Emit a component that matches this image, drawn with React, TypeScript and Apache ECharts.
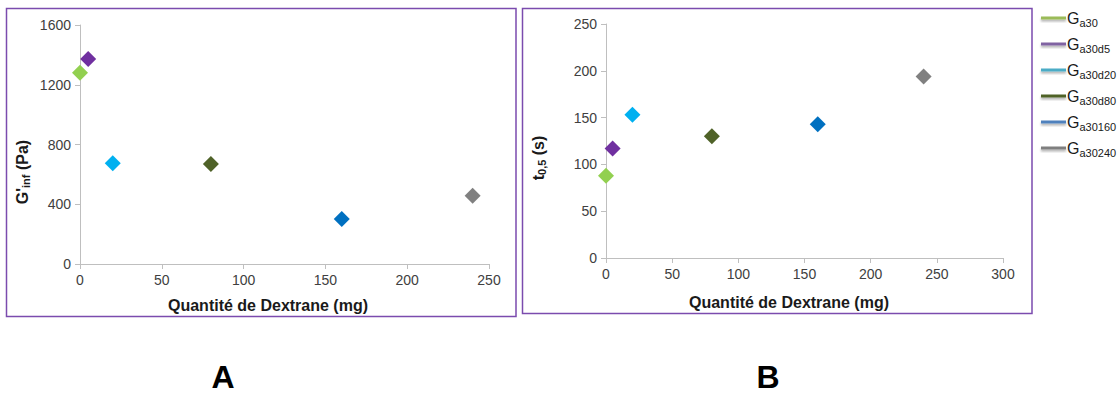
import React, { useEffect, useRef } from "react";
import * as echarts from "echarts";

const seriesNames = ["Ga30", "Ga30d5", "Ga30d20", "Ga30d80", "Ga30160", "Ga30240"];
const subscripts = ["a30", "a30d5", "a30d20", "a30d80", "a30160", "a30240"];
const colors = ["#92D050", "#7030A0", "#00B0F0", "#4F6228", "#0070C0", "#808080"];
const legendColors = ["#9BBB59", "#8064A2", "#4BACC6", "#4F6228", "#4F81BD", "#7F7F7F"];
const dextrane = [0, 5, 20, 80, 160, 240];
const gInf = [1280, 1372, 674, 670, 301, 457];
const t05 = [88, 117, 153, 130, 143, 194];

const FONT = "Liberation Sans, Arial, sans-serif";

export default function App() {
  const ref = useRef<HTMLDivElement>(null);
  useEffect(() => {
    if (!ref.current) return;
    const chart = echarts.init(ref.current, null, { renderer: "svg" });
    const axisLabel = { color: "#404040", fontSize: 14, fontFamily: FONT, margin: 9, formatter: (v: number) => String(v) };
    const axisLine = { show: true, lineStyle: { color: "#BFBFBF", width: 1 } };
    const axisTick = { show: true, length: 5, lineStyle: { color: "#BFBFBF" } };
    const series: any[] = [];
    seriesNames.forEach((n, i) => {
      series.push({
        name: n,
        type: "scatter",
        xAxisIndex: 0,
        yAxisIndex: 0,
        symbol: "diamond",
        symbolSize: 16,
        itemStyle: { color: colors[i], opacity: 1 },
        data: [[dextrane[i], gInf[i]]],
      });
      series.push({
        name: n,
        type: "scatter",
        xAxisIndex: 1,
        yAxisIndex: 1,
        symbol: "diamond",
        symbolSize: 16,
        itemStyle: { color: colors[i], opacity: 1 },
        data: [[dextrane[i], t05[i]]],
      });
    });
    const titleStyle = { fontSize: 16, fontWeight: "bold", fill: "#1a1a1a", fontFamily: FONT };
    chart.setOption({
      animation: false,
      grid: [
        { left: 80, top: 25, width: 409, height: 239 },
        { left: 606, top: 24, width: 397, height: 234 },
      ],
      xAxis: [
        { type: "value", gridIndex: 0, min: 0, max: 250, interval: 50, axisLine, axisTick, axisLabel, splitLine: { show: false } },
        { type: "value", gridIndex: 1, min: 0, max: 300, interval: 50, axisLine, axisTick, axisLabel, splitLine: { show: false } },
      ],
      yAxis: [
        { type: "value", gridIndex: 0, min: 0, max: 1600, interval: 400, axisLine, axisTick, axisLabel, splitLine: { show: false } },
        { type: "value", gridIndex: 1, min: 0, max: 250, interval: 50, axisLine, axisTick, axisLabel, splitLine: { show: false } },
      ],
      legend: {
        orient: "vertical",
        left: 1036,
        top: 3,
        itemWidth: 25,
        itemHeight: 3,
        itemGap: 6,
        icon: "rect",
        data: seriesNames.map((n, i) => ({
          name: n,
          itemStyle: { color: legendColors[i], shadowBlur: 2, shadowColor: "rgba(0,0,0,0.3)", shadowOffsetY: 2 },
        })),
        formatter: (name: string) => {
          const i = seriesNames.indexOf(name);
          return "{g|G}{s|" + subscripts[i] + "}";
        },
        textStyle: {
          fontFamily: FONT,
          color: "#1a1a1a",
          padding: [0, 0, 0, -4],
          rich: {
            g: { fontSize: 16, fontFamily: FONT, color: "#1a1a1a", lineHeight: 18 },
            s: { fontSize: 11, fontFamily: FONT, color: "#1a1a1a", padding: [9, 0, 0, 0], lineHeight: 18 },
          },
        },
      },
      graphic: [
        { type: "rect", shape: { x: 6.5, y: 8.5, width: 509.5, height: 308 }, style: { fill: "none", stroke: "#7B4BAE", lineWidth: 1.5 } },
        { type: "rect", shape: { x: 522.5, y: 8.5, width: 509.5, height: 305 }, style: { fill: "none", stroke: "#7B4BAE", lineWidth: 1.5 } },
        {
          type: "text",
          x: 22,
          y: 172,
          rotation: Math.PI / 2,
          style: {
            text: "{b|G'}{s|inf}{b| (Pa)}",
            textAlign: "center",
            textVerticalAlign: "middle",
            rich: {
              b: { ...titleStyle },
              s: { fontSize: 11, fontWeight: "bold", fill: "#1a1a1a", fontFamily: FONT, padding: [8, 0, 0, 0] },
            },
          },
        },
        {
          type: "text",
          x: 538,
          y: 158,
          rotation: Math.PI / 2,
          style: {
            text: "{b|t}{s|0,5}{b| (s)}",
            textAlign: "center",
            textVerticalAlign: "middle",
            rich: {
              b: { ...titleStyle },
              s: { fontSize: 11, fontWeight: "bold", fill: "#1a1a1a", fontFamily: FONT, padding: [8, 0, 0, 0] },
            },
          },
        },
        {
          type: "text",
          x: 268,
          y: 305,
          style: { text: "Quantité de Dextrane (mg)", ...titleStyle, textAlign: "center", textVerticalAlign: "middle" },
        },
        {
          type: "text",
          x: 789,
          y: 302,
          style: { text: "Quantité de Dextrane (mg)", ...titleStyle, textAlign: "center", textVerticalAlign: "middle" },
        },
        {
          type: "text",
          x: 223,
          y: 377,
          style: { text: "A", fontSize: 32, fontWeight: "bold", fill: "#000", fontFamily: FONT, textAlign: "center", textVerticalAlign: "middle" },
        },
        {
          type: "text",
          x: 768,
          y: 377,
          style: { text: "B", fontSize: 32, fontWeight: "bold", fill: "#000", fontFamily: FONT, textAlign: "center", textVerticalAlign: "middle" },
        },
      ],
      series,
    });
    return () => chart.dispose();
  }, []);
  return <div ref={ref} style={{ position: "absolute", left: 0, top: 0, width: 1119, height: 394 }} />;
}
